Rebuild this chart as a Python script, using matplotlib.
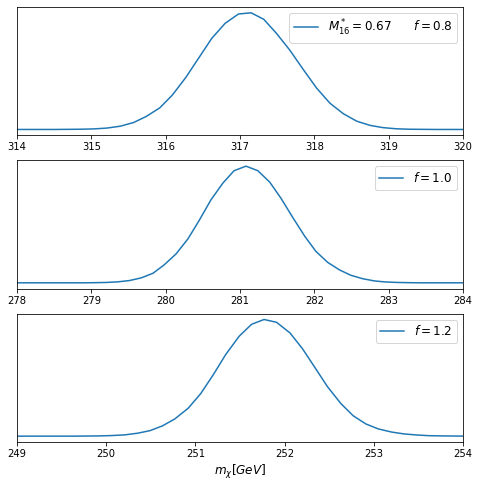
import matplotlib
matplotlib.use("Agg")
import matplotlib.pyplot as plt

# panel 1: M*_16 = 0.67, f = 0.8
x_f08 = [313.98, 314.15, 314.33, 314.51, 314.68, 314.86, 315.04, 315.21, 315.39, 315.57,
         315.74, 315.92, 316.09, 316.27, 316.44, 316.62, 316.80, 316.98, 317.15, 317.32,
         317.49, 317.67, 317.85, 318.03, 318.21, 318.39, 318.57, 318.75, 318.92, 319.10,
         319.28, 319.45, 319.63, 319.81, 319.98, 320.16]
y_f08 = [0, 0, 0, 0, 0.001, 0.002, 0.005, 0.012, 0.028, 0.060,
         0.112, 0.185, 0.295, 0.445, 0.608, 0.781, 0.910, 0.990, 1.0, 0.944,
         0.824, 0.680, 0.515, 0.355, 0.225, 0.135, 0.071, 0.035, 0.016, 0.006,
         0.002, 0.001, 0, 0, 0, 0]

# panel 2: f = 1.0
x_f10 = [277.94, 278.10, 278.26, 278.41, 278.57, 278.73, 278.88, 279.04, 279.20, 279.35,
         279.51, 279.67, 279.83, 279.98, 280.14, 280.30, 280.45, 280.61, 280.77, 280.92,
         281.08, 281.24, 281.40, 281.55, 281.71, 281.87, 282.02, 282.18, 282.34, 282.49,
         282.65, 282.81, 282.96, 283.12, 283.28, 283.44, 283.59, 283.75, 283.91, 284.06]
y_f10 = [0, 0, 0, 0, 0, 0, 0, 0.001, 0.003, 0.008,
         0.019, 0.042, 0.082, 0.154, 0.248, 0.377, 0.534, 0.712, 0.855, 0.961,
         1.0, 0.961, 0.863, 0.726, 0.56, 0.40, 0.27, 0.175, 0.11, 0.065,
         0.035, 0.016, 0.007, 0.003, 0.001, 0, 0, 0, 0, 0]

# panel 3: f = 1.2
x_f12 = [248.92, 249.07, 249.21, 249.35, 249.49, 249.64, 249.78, 249.92, 250.06, 250.21,
         250.35, 250.49, 250.63, 250.77, 250.92, 251.06, 251.20, 251.34, 251.49, 251.63,
         251.77, 251.91, 252.06, 252.20, 252.34, 252.48, 252.63, 252.77, 252.91, 253.05,
         253.20, 253.34, 253.48, 253.62, 253.77, 253.91, 254.05]
y_f12 = [0, 0, 0, 0, 0, 0, 0.001, 0.002, 0.005, 0.011,
         0.025, 0.047, 0.088, 0.148, 0.240, 0.365, 0.526, 0.700, 0.856, 0.959,
         1.0, 0.976, 0.885, 0.750, 0.588, 0.425, 0.280, 0.174, 0.105, 0.062,
         0.035, 0.019, 0.01, 0.004, 0.002, 0.001, 0]

panels = [
    (x_f08, y_f08, (314, 320), r"$M^*_{16}=0.67$      $f=0.8$"),
    (x_f10, y_f10, (278, 284), r"$f=1.0$"),
    (x_f12, y_f12, (249, 254), r"$f=1.2$"),
]

fig, axes = plt.subplots(3, 1, figsize=(479 / 72, 488 / 72), dpi=72)
fig.subplots_adjust(left=0.0355, right=0.9666, top=0.9857, bottom=0.0943, hspace=0.195)

for ax, (x, y, lim, label) in zip(axes, panels):
    ax.plot(x, y, color="tab:blue", label=label)
    ax.set_xlim(*lim)
    ax.set_yticks([])
    ax.legend(loc="upper right", fontsize=12)

axes[-1].set_xlabel(r"$m_{\chi}[GeV]$", fontsize=12)

plt.savefig("out.png", dpi=72)
